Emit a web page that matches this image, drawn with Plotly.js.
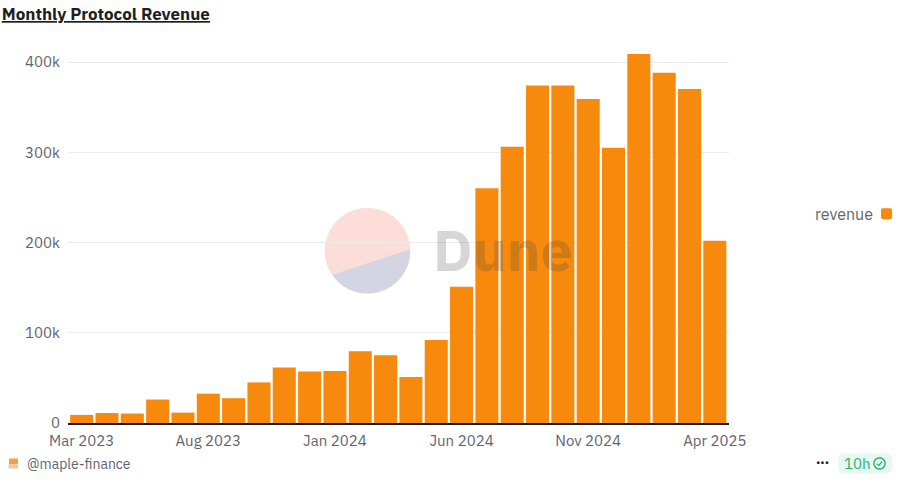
<!DOCTYPE html>
<html><head><meta charset="utf-8">
<script src="https://cdn.plot.ly/plotly-3.0.0.min.js"></script>
<style>html,body{margin:0;padding:0;background:#fff}#c{width:902px;height:485px}</style></head>
<body><div id="c"></div>
<script>
const months=["2023-03","2023-04","2023-05","2023-06","2023-07","2023-08","2023-09","2023-10","2023-11","2023-12","2024-01","2024-02","2024-03","2024-04","2024-05","2024-06","2024-07","2024-08","2024-09","2024-10","2024-11","2024-12","2025-01","2025-02","2025-03","2025-04"];
const idx=months.map((m,i)=>i);
const revenue=[9000,11000,10500,26000,11500,32500,27500,45000,61500,57000,57500,79500,75000,51000,92000,151000,260000,306000,374000,374000,359000,305000,409000,388000,370000,202000];
const tickPos=[0,5,10,15,20,25];
const tickText=["Mar 2023","Aug 2023","Jan 2024","Jun 2024","Nov 2024","Apr 2025"];
const yTicks=[0,100000,200000,300000,400000];
const yText=["0","100k","200k","300k","400k"];
const F="'IBM Plex Sans','Open Sans','Noto Sans',sans-serif";
const W=902,H=485,L=68,R=729,T=39,B=422.6;
const px=x=>(x-L)/(R-L), py=y=>(B-y)/(B-T);
function pathPx(pts,close){return 'M'+pts.map(p=>px(p[0])+','+py(p[1])).join(' L')+(close?' Z':'');}
function arc(cx,cy,r,a0,a1,n){const o=[];for(let i=0;i<=n;i++){const a=a0+(a1-a0)*i/n;o.push([cx+r*Math.cos(a),cy+r*Math.sin(a)]);}return o;}
function rrect(x0,y0,x1,y1,r){const p=Math.PI/2;return [...arc(x1-r,y0+r,r,-p,0,5),...arc(x1-r,y1-r,r,0,p,5),...arc(x0+r,y1-r,r,p,2*p,5),...arc(x0+r,y0+r,r,2*p,3*p,5)];}
function paperShape(pts,fill,extra){return Object.assign({type:'path',xref:'paper',yref:'paper',path:pathPx(pts,true),fillcolor:fill,line:{width:0},layer:'above'},extra||{});}
const a1=Math.atan2(249-250.5,410-367.5),a2=Math.atan2(274-250.5,333-367.5);
const shapes=[
 paperShape(arc(367.5,250.5,42.8,a2,a1+2*Math.PI,60),'rgba(246,130,110,0.27)',{layer:'below'}),
 paperShape(arc(367.5,250.5,42.8,a1,a2,40),'rgba(60,60,125,0.22)',{layer:'below'}),
 paperShape(rrect(881,208,892,219,2),'#f7890c'),
 paperShape(rrect(838,453,892,473,6),'#e8f7f0'),
 paperShape(arc(879.5,463,5.6,0,2*Math.PI,24),'rgba(0,0,0,0)',{line:{width:1.4,color:'#22b573'}}),
 {type:'path',xref:'paper',yref:'paper',path:pathPx([[876.8,463.2],[878.8,465.2],[882.2,461]],false),line:{width:1.3,color:'#22b573'},layer:'above'},
 paperShape(rrect(9,458,18,464,1),'#f0a050'),
 paperShape(rrect(8.5,464,18,468,0.5),'#e8c8a8')
];
const ann=(x,y,text,xanchor,font)=>({xref:'paper',yref:'paper',x:px(x),y:py(y),xanchor,yanchor:'middle',text,showarrow:false,font:Object.assign({family:F},font)});
Plotly.newPlot('c',[{type:'bar',x:idx,y:revenue,name:'revenue',marker:{color:'#f7890c',line:{width:0}},showlegend:false,width:0.91}],{
 width:W,height:H,paper_bgcolor:'#fff',plot_bgcolor:'#fff',
 margin:{l:L,r:W-R,t:T,b:H-B},
 title:{text:'<b><u>Monthly Protocol Revenue</u></b>',x:0.002,xanchor:'left',y:0.971,yanchor:'middle',font:{family:F,size:17,color:'#1f1f1f'}},
 xaxis:{range:[-0.54,25.56],tickvals:tickPos,ticktext:tickText,showgrid:false,showline:true,linecolor:'#1a1a1a',linewidth:2,ticks:'',ticklabelstandoff:3,tickfont:{family:F,size:15,color:'#5f6470'},zeroline:false},
 yaxis:{range:[0,425500],tickvals:yTicks,ticktext:yText,gridcolor:'#ebebeb',gridwidth:1,zeroline:false,ticks:'',ticklabelstandoff:7,tickfont:{family:F,size:15,color:'#5f6470'}},
 shapes,
 annotations:[
  ann(431,250,'<b>Dune</b>','left',{size:57,color:'rgba(70,70,70,0.22)'}),
  ann(875,214,'revenue','right',{size:16,color:'#5f6470'}),
  ann(25,463.5,'@maple-finance','left',{size:14,color:'#5f6470'}),
  ann(822.5,462,'•••','center',{size:11,color:'#222'}),
  ann(841.5,463,'10h','left',{size:15,color:'#22b573'})
 ]
},{displayModeBar:false});
</script></body></html>
